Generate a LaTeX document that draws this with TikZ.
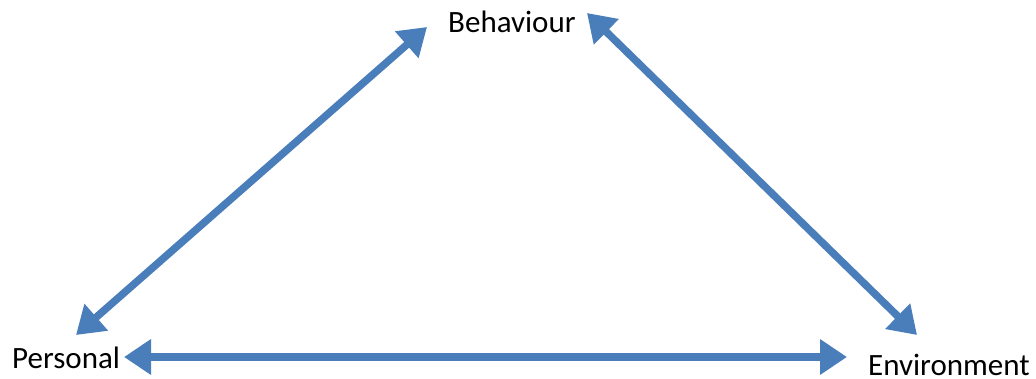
\documentclass[tikz,border=0pt]{standalone}
\usepackage{fontspec}
\setmainfont{Carlito}
\usetikzlibrary{arrows.meta}
\definecolor{arrowblue}{RGB}{74,126,187}
\tikzset{
  lbl/.style={inner sep=0pt, anchor=base west, font=\fontsize{31}{37}\selectfont},
  biarrow/.style={draw=arrowblue, line width=7.5pt, {Triangle[length=27pt,width=34pt]}-{Triangle[length=27pt,width=34pt]}}
}
\begin{document}
\begin{tikzpicture}[x=1pt,y=-1pt]
\useasboundingbox (0,0) rectangle (1036,378);
\node[lbl] (beh) at (448,32) {Behaviour};
\node[lbl] (per) at (12,368) {Personal};
\node[lbl] (env) at (868,375) {Environment};
\coordinate (pb) at (76,335);
\coordinate (bp) at (427,27);
\coordinate (be) at (587,13);
\coordinate (eb) at (917,335);
\coordinate (pe) at (124,357);
\coordinate (ep) at (847,357);
\draw[biarrow] (pb) -- (bp);
\draw[biarrow] (be) -- (eb);
\draw[biarrow] (pe) -- (ep);
\end{tikzpicture}
\end{document}
